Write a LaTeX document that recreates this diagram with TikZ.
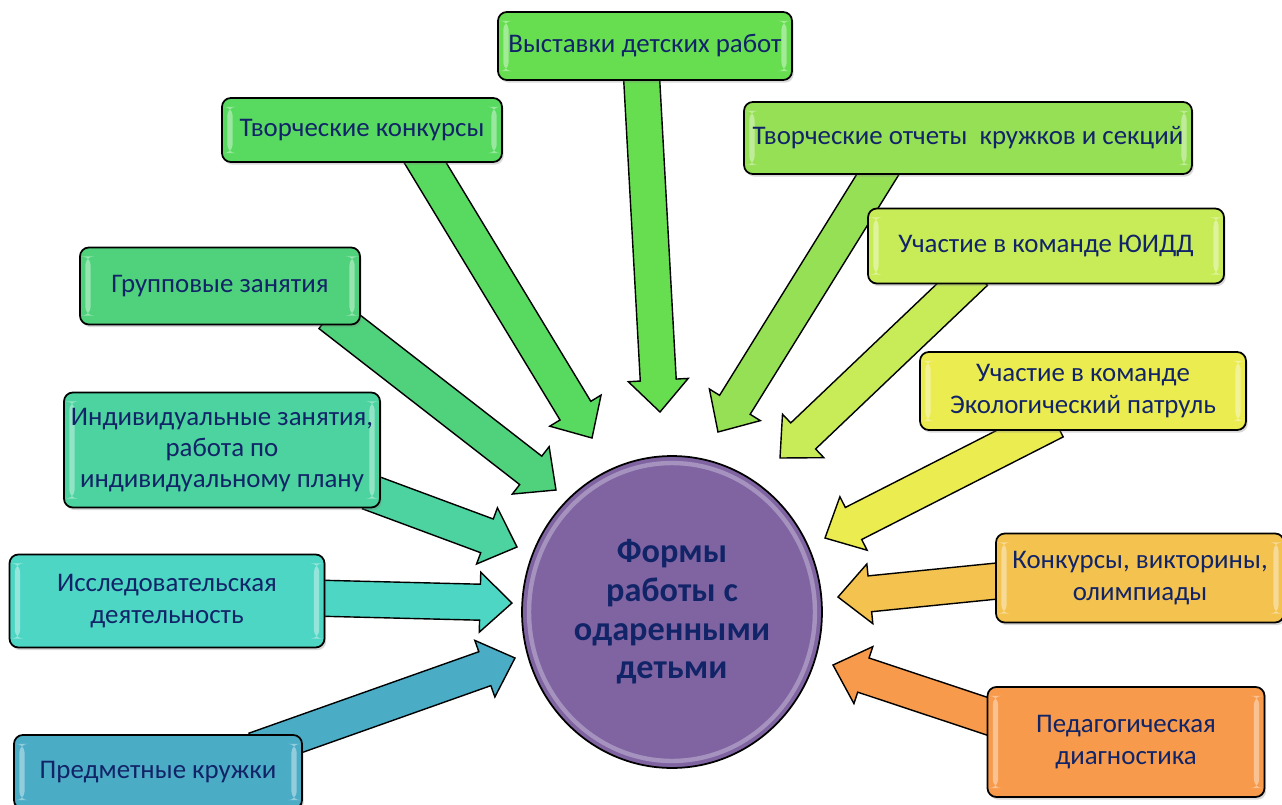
\documentclass[tikz,border=0pt]{standalone}
\usepackage{fontspec}
\setmainfont{Carlito}
\usetikzlibrary{calc,shapes.geometric,shadows}

\definecolor{txtblue}{RGB}{18,36,104}
\definecolor{cvy}{RGB}{102,222,80}
\definecolor{ctk}{RGB}{88,218,96}
\definecolor{cto}{RGB}{150,224,86}
\definecolor{cyu}{RGB}{200,236,87}
\definecolor{cgz}{RGB}{80,210,124}
\definecolor{cek}{RGB}{234,236,80}
\definecolor{ciz}{RGB}{76,211,160}
\definecolor{cis}{RGB}{77,214,196}
\definecolor{ckv}{RGB}{243,194,79}
\definecolor{cpk}{RGB}{75,172,198}
\definecolor{cpd}{RGB}{247,154,75}
\definecolor{cmid}{RGB}{128,100,162}

\pgfdeclarelayer{bg}
\pgfsetlayers{bg,main}

% block arrow: from, to, colour
\newcommand{\blockarrow}[3]{%
  \coordinate (hb) at ($(#2)!0.64cm!(#1)$);
  \filldraw[fill=#3, draw=black, line width=0.8pt]
    ($(#1)!0.36cm!90:(#2)$) -- ($(hb)!0.36cm!90:(#2)$) -- ($(hb)!0.6cm!90:(#2)$)
    -- (#2) -- ($(hb)!0.6cm!-90:(#2)$) -- ($(hb)!0.36cm!-90:(#2)$)
    -- ($(#1)!0.36cm!-90:(#2)$) -- cycle;
}

\begin{document}
\begin{tikzpicture}[x=0.02cm, y=-0.02cm,
    box/.style={draw=black, line width=1pt, rounded corners=5pt, text=txtblue,
      font=\fontsize{15.3}{17.8}\selectfont, align=center, inner sep=0pt,
      drop shadow={opacity=0.3, shadow xshift=1pt, shadow yshift=-1.5pt},
      path picture={
        \fill[white, opacity=0.4] ([xshift=3pt,yshift=5pt]path picture bounding box.south west)
          rectangle ([xshift=6pt,yshift=-5pt]path picture bounding box.north west);
        \fill[white, opacity=0.4] ([xshift=-6pt,yshift=5pt]path picture bounding box.south east)
          rectangle ([xshift=-3pt,yshift=-5pt]path picture bounding box.north east);
      }}]
    \useasboundingbox (0,0) rectangle (1282,805);

    \node[ellipse, draw=black, line width=1pt, fill=cmid, inner sep=0pt, minimum width=6cm, minimum height=6.24cm,
      text=txtblue, align=center, font=\fontsize{19.5}{22}\selectfont\bfseries,
      path picture={\draw[white, opacity=0.3, line width=2.5pt] (path picture bounding box.center) ellipse (2.86cm and 2.98cm);}]
      (mid) at (672,612) {Формы\\работы с\\одаренными\\детьми};

    \node[box, fill=cvy, minimum width=5.88cm, minimum height=1.36cm] (vy) at (645,46) {Выставки детских работ};
    \node[box, fill=ctk, minimum width=5.6cm, minimum height=1.28cm] (tk) at (362,130) {Творческие конкурсы};
    \node[box, fill=cto, minimum width=8.96cm, minimum height=1.44cm] (to) at (968,138) {Творческие отчеты\ \ кружков и секций};
    \node[box, fill=cyu, minimum width=7.12cm, minimum height=1.5cm] (yu) at (1046,246) {Участие в команде ЮИДД};
    \node[box, fill=cgz, minimum width=5.6cm, minimum height=1.54cm] (gz) at (220,286) {Групповые занятия};
    \node[box, fill=cek, minimum width=6.52cm, minimum height=1.56cm] (ek) at (1083,391) {Участие в команде\\Экологический патруль};
    \node[box, fill=ciz, minimum width=6.32cm, minimum height=2.3cm] (iz) at (222,450) {Индивидуальные занятия,\\работа по\\индивидуальному плану};
    \node[box, fill=cis, minimum width=6.3cm, minimum height=1.86cm] (is) at (167,601) {Исследовательская\\деятельность};
    \node[box, fill=ckv, minimum width=5.76cm, minimum height=1.78cm] (kv) at (1140,578) {Конкурсы, викторины,\\олимпиады};
    \node[box, fill=cpk, minimum width=5.76cm, minimum height=1.48cm] (pk) at (158,772) {Предметные кружки};
    \node[box, fill=cpd, minimum width=5.54cm, minimum height=2.2cm] (pd) at (1126,742) {Педагогическая\\диагностика};

    \coordinate (vy-s) at ($(vy.south)+(-4,-14)$);
    \coordinate (tk-s) at ($(tk.south)+(56,-12)$);
    \coordinate (gz-s) at ($(gz.south)+(110,-11)$);
    \coordinate (iz-s) at ($(iz.east)+(-12,42)$);
    \coordinate (is-s) at ($(is.east)+(-13,-3)$);
    \coordinate (pk-s) at ($(pk.north)+(97,16)$);
    \coordinate (to-s) at ($(to.south)+(-83,-12)$);
    \coordinate (yu-s) at ($(yu.south)+(-71,-12)$);
    \coordinate (ek-s) at ($(ek.south)+(-28,-10)$);
    \coordinate (kv-s) at ($(kv.west)+(12,2)$);
    \coordinate (pd-s) at ($(pd.west)+(12,-22)$);

    \coordinate (vy-t) at (660,412);
    \coordinate (tk-t) at (592,438);
    \coordinate (gz-t) at (556,490);
    \coordinate (iz-t) at (517,547);
    \coordinate (is-t) at (512,603);
    \coordinate (pk-t) at (515,658);
    \coordinate (to-t) at (718,432);
    \coordinate (yu-t) at (780,458);
    \coordinate (ek-t) at (825,538);
    \coordinate (kv-t) at (838,597);
    \coordinate (pd-t) at (833,665);

    \begin{pgfonlayer}{bg}
    \blockarrow{vy-s}{vy-t}{cvy}
    \blockarrow{tk-s}{tk-t}{ctk}
    \blockarrow{gz-s}{gz-t}{cgz}
    \blockarrow{iz-s}{iz-t}{ciz}
    \blockarrow{is-s}{is-t}{cis}
    \blockarrow{pk-s}{pk-t}{cpk}
    \blockarrow{to-s}{to-t}{cto}
    \blockarrow{yu-s}{yu-t}{cyu}
    \blockarrow{ek-s}{ek-t}{cek}
    \blockarrow{kv-s}{kv-t}{ckv}
    \blockarrow{pd-s}{pd-t}{cpd}
    \end{pgfonlayer}
\end{tikzpicture}
\end{document}
